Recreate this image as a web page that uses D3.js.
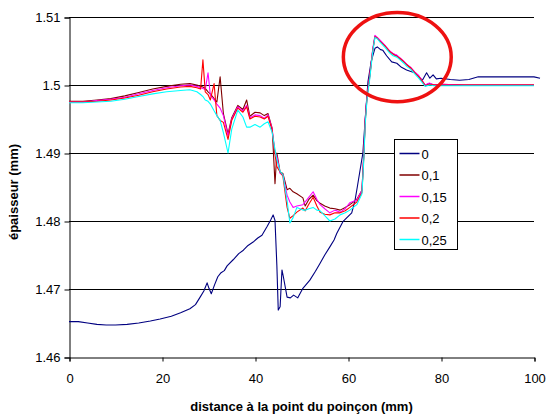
<!DOCTYPE html>
<html>
<head>
<meta charset="utf-8">
<script src="https://cdn.jsdelivr.net/npm/d3@7"></script>
<style>
  html, body { margin: 0; padding: 0; background: #fff; }
  text { font-family: Arial, "Liberation Sans", sans-serif; }
</style>
</head>
<body>
<div id="chart"></div>
<script>
// series 0 (own x grid)
const x0 = [0, 2, 4, 6, 8, 10, 12.5, 15, 17.5, 19.6, 22, 24, 26, 27.2, 28.2, 29, 29.7, 30.1, 30.6, 31.3,
  32, 32.7, 33.4, 34, 35.3, 36.5, 37.5, 38.5, 39.6, 40.6, 41.5, 42.6, 43.4, 43.9, 44.3, 44.7, 45, 45.4, 45.8, 46.1,
  46.9, 47.6, 48.3, 49.2, 50.3, 51.8, 53, 54, 55, 56.1, 57, 57.6, 58.9, 60.8, 61.5, 62, 62.6, 63.2, 63.8, 64.3,
  65, 65.8, 66.3, 67, 67.5, 68.3, 69.4, 70.5, 71.5, 72.6, 73.5, 74.4, 75.2, 76, 76.9, 77.6, 78.3, 79, 80, 82,
  84, 86, 88, 92, 96, 100, 101.3]
const y0 = [1.4652, 1.4652, 1.4650, 1.4648, 1.4647, 1.4647, 1.4648, 1.4650, 1.4653, 1.4656, 1.4660, 1.4665, 1.4671, 1.4677, 1.4688, 1.4697, 1.4709, 1.4701, 1.4693, 1.4706,
  1.4718, 1.4724, 1.4727, 1.4734, 1.4743, 1.4752, 1.4757, 1.4764, 1.4769, 1.4775, 1.4779, 1.4792, 1.4802, 1.4809, 1.4801, 1.4735, 1.4669, 1.4674, 1.4728, 1.4718,
  1.4688, 1.4687, 1.4691, 1.4687, 1.4701, 1.4713, 1.4726, 1.4738, 1.4750, 1.4762, 1.4772, 1.4782, 1.4799, 1.4812, 1.4830, 1.4850, 1.4875, 1.4900, 1.4960, 1.5005,
  1.5035, 1.5054, 1.5056, 1.5052, 1.5051, 1.5043, 1.5034, 1.5032, 1.5026, 1.5022, 1.5020, 1.5018, 1.5012, 1.5007, 1.5018, 1.5010, 1.5015, 1.5009, 1.5010, 1.5008,
  1.5007, 1.5008, 1.5012, 1.5012, 1.5012, 1.5012, 1.5010]

// series 0,1 / 0,15 / 0,2 / 0,25 share this x grid
const xPress = [0, 3, 6, 9, 12, 15, 18, 21, 24, 26,
  27.5, 28.3, 28.8, 29.3, 29.9, 30.4, 31.2, 31.8, 32.5, 33.2,
  34.2, 35, 36.3, 37.4, 38.2, 38.9, 40, 41.1, 42, 42.8,
  43.7, 44.3, 44.7, 45.4, 46, 46.9, 47.5, 48.2, 49, 50.3,
  50.8, 51.6, 52.5, 53.3, 54, 55, 56.1, 57.2, 58.3, 59.4,
  60.4, 61.9, 63, 63.4, 63.7, 64.1, 64.7, 65.3, 65.8, 66.3,
  66.9, 68, 69, 69.7, 70.5, 71.2, 72, 72.7, 73.5, 74.4,
  75.2, 75.9, 76.6, 77.5, 78.5, 80, 85, 90, 95, 100]

const y01 = [1.4976, 1.4976, 1.4978, 1.4980, 1.4984, 1.4989, 1.4994, 1.4998, 1.5001, 1.5002,
  1.5000, 1.4998, 1.4997, 1.4995, 1.4990, 1.4987, 1.4980, 1.4975, 1.5012, 1.4958,
  1.4928, 1.4952, 1.4970, 1.4964, 1.4978, 1.4954, 1.4960, 1.4959, 1.4955, 1.4958,
  1.4936, 1.4855, 1.4900, 1.4872, 1.4870, 1.4846, 1.4848, 1.4843, 1.4840, 1.4834,
  1.4822, 1.4832, 1.4838, 1.4830, 1.4826, 1.4822, 1.4819, 1.4818, 1.4816, 1.4820,
  1.4824, 1.4832, 1.4845, 1.4898, 1.4948, 1.4985, 1.5015, 1.5050, 1.5072, 1.5069,
  1.5065, 1.5057, 1.5049, 1.5046, 1.5043, 1.5039, 1.5034, 1.5030, 1.5025, 1.5018,
  1.5013, 1.5006, 1.5000, 1.5002, 1.5000, 1.5001, 1.5000, 1.5000, 1.5000, 1.5000]

const y015 = [1.4975, 1.4975, 1.4977, 1.4979, 1.4982, 1.4987, 1.4992, 1.4996, 1.4999, 1.5000,
  1.4998, 1.4996, 1.4995, 1.4993, 1.5018, 1.4985, 1.4978, 1.4972, 1.4966, 1.4955,
  1.4925, 1.4950, 1.4968, 1.4962, 1.4970, 1.4952, 1.4956, 1.4955, 1.4951, 1.4956,
  1.4935, 1.4900, 1.4895, 1.4870, 1.4868, 1.4838, 1.4828, 1.4820, 1.4822, 1.4824,
  1.4828, 1.4835, 1.4843, 1.4832, 1.4824, 1.4818, 1.4812, 1.4816, 1.4813, 1.4818,
  1.4827, 1.4831, 1.4845, 1.4900, 1.4950, 1.4985, 1.5015, 1.5052, 1.5073, 1.5070,
  1.5066, 1.5058, 1.5050, 1.5046, 1.5044, 1.5040, 1.5035, 1.5030, 1.5026, 1.5019,
  1.5014, 1.5007, 1.5000, 1.5003, 1.5000, 1.5001, 1.5000, 1.5000, 1.5000, 1.5000]

const y02 = [1.4975, 1.4975, 1.4976, 1.4978, 1.4981, 1.4985, 1.4990, 1.4994, 1.4997, 1.4998,
  1.4996, 1.4994, 1.5037, 1.4990, 1.4986, 1.4978, 1.5002, 1.4955, 1.4948, 1.4945,
  1.4920, 1.4948, 1.4966, 1.4960, 1.4968, 1.4950, 1.4954, 1.4953, 1.4950, 1.4954,
  1.4933, 1.4898, 1.4880, 1.4872, 1.4866, 1.4820, 1.4804, 1.4808, 1.4813, 1.4819,
  1.4815, 1.4825, 1.4835, 1.4822, 1.4813, 1.4810, 1.4809, 1.4812, 1.4812, 1.4815,
  1.4820, 1.4828, 1.4842, 1.4895, 1.4945, 1.4982, 1.5013, 1.5050, 1.5071, 1.5069,
  1.5064, 1.5057, 1.5049, 1.5045, 1.5042, 1.5039, 1.5034, 1.5029, 1.5025, 1.5018,
  1.5012, 1.5006, 1.4999, 1.5001, 1.5000, 1.5000, 1.5000, 1.5000, 1.5000, 1.5000]

const y025 = [1.4974, 1.4974, 1.4975, 1.4976, 1.4979, 1.4983, 1.4987, 1.4990, 1.4992, 1.4993,
  1.4990, 1.4986, 1.4983, 1.4978, 1.4976, 1.4972, 1.4962, 1.4955, 1.4948, 1.4930,
  1.4900, 1.4935, 1.4963, 1.4953, 1.4938, 1.4938, 1.4942, 1.4938, 1.4943, 1.4946,
  1.4930, 1.4905, 1.4890, 1.4873, 1.4868, 1.4830, 1.4797, 1.4805, 1.4820, 1.4816,
  1.4816, 1.4818, 1.4820, 1.4816, 1.4815, 1.4808, 1.4800, 1.4803, 1.4809, 1.4812,
  1.4816, 1.4824, 1.4840, 1.4890, 1.4942, 1.4980, 1.5010, 1.5048, 1.5070, 1.5068,
  1.5063, 1.5055, 1.5047, 1.5043, 1.5041, 1.5037, 1.5032, 1.5027, 1.5023, 1.5016,
  1.5010, 1.5004, 1.4998, 1.5000, 1.4999, 1.4999, 1.4999, 1.4999, 1.4999, 1.4999]

const seriesNames = ["0", "0,1", "0,15", "0,2", "0,25"]
const seriesColors = ["#000080", "#800000", "#ff00ff", "#ff0000", "#00ffff"]
const xTicks = [0, 20, 40, 60, 80, 100]
const yTicks = [1.46, 1.47, 1.48, 1.49, 1.5, 1.51]
const yTickLabels = ["1.46", "1.47", "1.48", "1.49", "1.5", "1.51"]

const series = [
  { name: seriesNames[0], color: seriesColors[0], pts: x0.map((x, i) => [x, y0[i]]) },
  { name: seriesNames[1], color: seriesColors[1], pts: xPress.map((x, i) => [x, y01[i]]) },
  { name: seriesNames[2], color: seriesColors[2], pts: xPress.map((x, i) => [x, y015[i]]) },
  { name: seriesNames[3], color: seriesColors[3], pts: xPress.map((x, i) => [x, y02[i]]) },
  { name: seriesNames[4], color: seriesColors[4], pts: xPress.map((x, i) => [x, y025[i]]) }
]

const width = 546
const height = 414
const margin = { top: 17, right: 12, bottom: 57, left: 69 }

const svg = d3.select("#chart").append("svg")
  .attr("width", width)
  .attr("height", height)

const x = d3.scaleLinear().domain([0, 100]).range([margin.left, width - margin.right])
const y = d3.scaleLinear().domain([1.46, 1.51]).range([height - margin.bottom, margin.top])

// gridlines
svg.append("g")
  .selectAll("line")
  .data(yTicks.slice(1))
  .join("line")
  .attr("x1", x(0)).attr("x2", x(100))
  .attr("y1", d => Math.round(y(d)) + 0.5).attr("y2", d => Math.round(y(d)) + 0.5)
  .attr("stroke", "#000")
  .attr("stroke-width", 1)

// axes
const yAxis = d3.axisLeft(y).tickValues(yTicks).tickSize(5)
  .tickFormat((d, i) => yTickLabels[i])
const gy = svg.append("g")
  .attr("transform", `translate(${x(0) + 0.5},0.5)`)
  .call(yAxis)
gy.select(".domain").attr("stroke", "#000")
gy.selectAll("text").attr("font-size", 13).attr("fill", "#000").attr("x", -9)

const xAxis = d3.axisBottom(x).tickValues(xTicks).tickSize(4).tickFormat(d3.format("d"))
const gx = svg.append("g")
  .attr("transform", `translate(0.5,${Math.round(y(1.46)) + 0.5})`)
  .call(xAxis)
gx.select(".domain").attr("stroke", "#000")
gx.selectAll("text").attr("font-size", 13).attr("fill", "#000").attr("dy", "1.45em")

// lines
const line = d3.line().x(d => x(d[0])).y(d => y(d[1]))
svg.append("g")
  .selectAll("path")
  .data(series)
  .join("path")
  .attr("d", d => line(d.pts))
  .attr("fill", "none")
  .attr("stroke", d => d.color)
  .attr("stroke-width", 1.1)
  .attr("stroke-linejoin", "round")

// axis titles
svg.append("text")
  .attr("x", (x(0) + x(100)) / 2)
  .attr("y", 411)
  .attr("text-anchor", "middle")
  .attr("font-size", 13)
  .attr("font-weight", "bold")
  .text("distance à la point du poinçon (mm)")

svg.append("text")
  .attr("transform", `translate(18,${(y(1.46) + y(1.51)) / 2 + 5}) rotate(-90)`)
  .attr("text-anchor", "middle")
  .attr("font-size", 13)
  .attr("font-weight", "bold")
  .text("épaisseur (mm)")

// legend
const legend = svg.append("g").attr("transform", "translate(394.5,139.5)")
legend.append("rect")
  .attr("width", 63).attr("height", 110)
  .attr("fill", "#fff").attr("stroke", "#000")
series.forEach((s, i) => {
  const ly = 14 + i * 21.5
  legend.append("line")
    .attr("x1", 5).attr("x2", 25)
    .attr("y1", ly).attr("y2", ly)
    .attr("stroke", s.color).attr("stroke-width", 1.5)
  legend.append("text")
    .attr("x", 27).attr("y", ly + 5)
    .attr("font-size", 13)
    .text(s.name)
})

// red ellipse around the peak
svg.append("ellipse")
  .attr("cx", x(70.6))
  .attr("cy", y(1.5041))
  .attr("rx", x(11.6) - x(0))
  .attr("ry", y(1.5) - y(1.50655))
  .attr("fill", "none")
  .attr("stroke", "#ee1111")
  .attr("stroke-width", 3.5)
</script>
</body>
</html>
